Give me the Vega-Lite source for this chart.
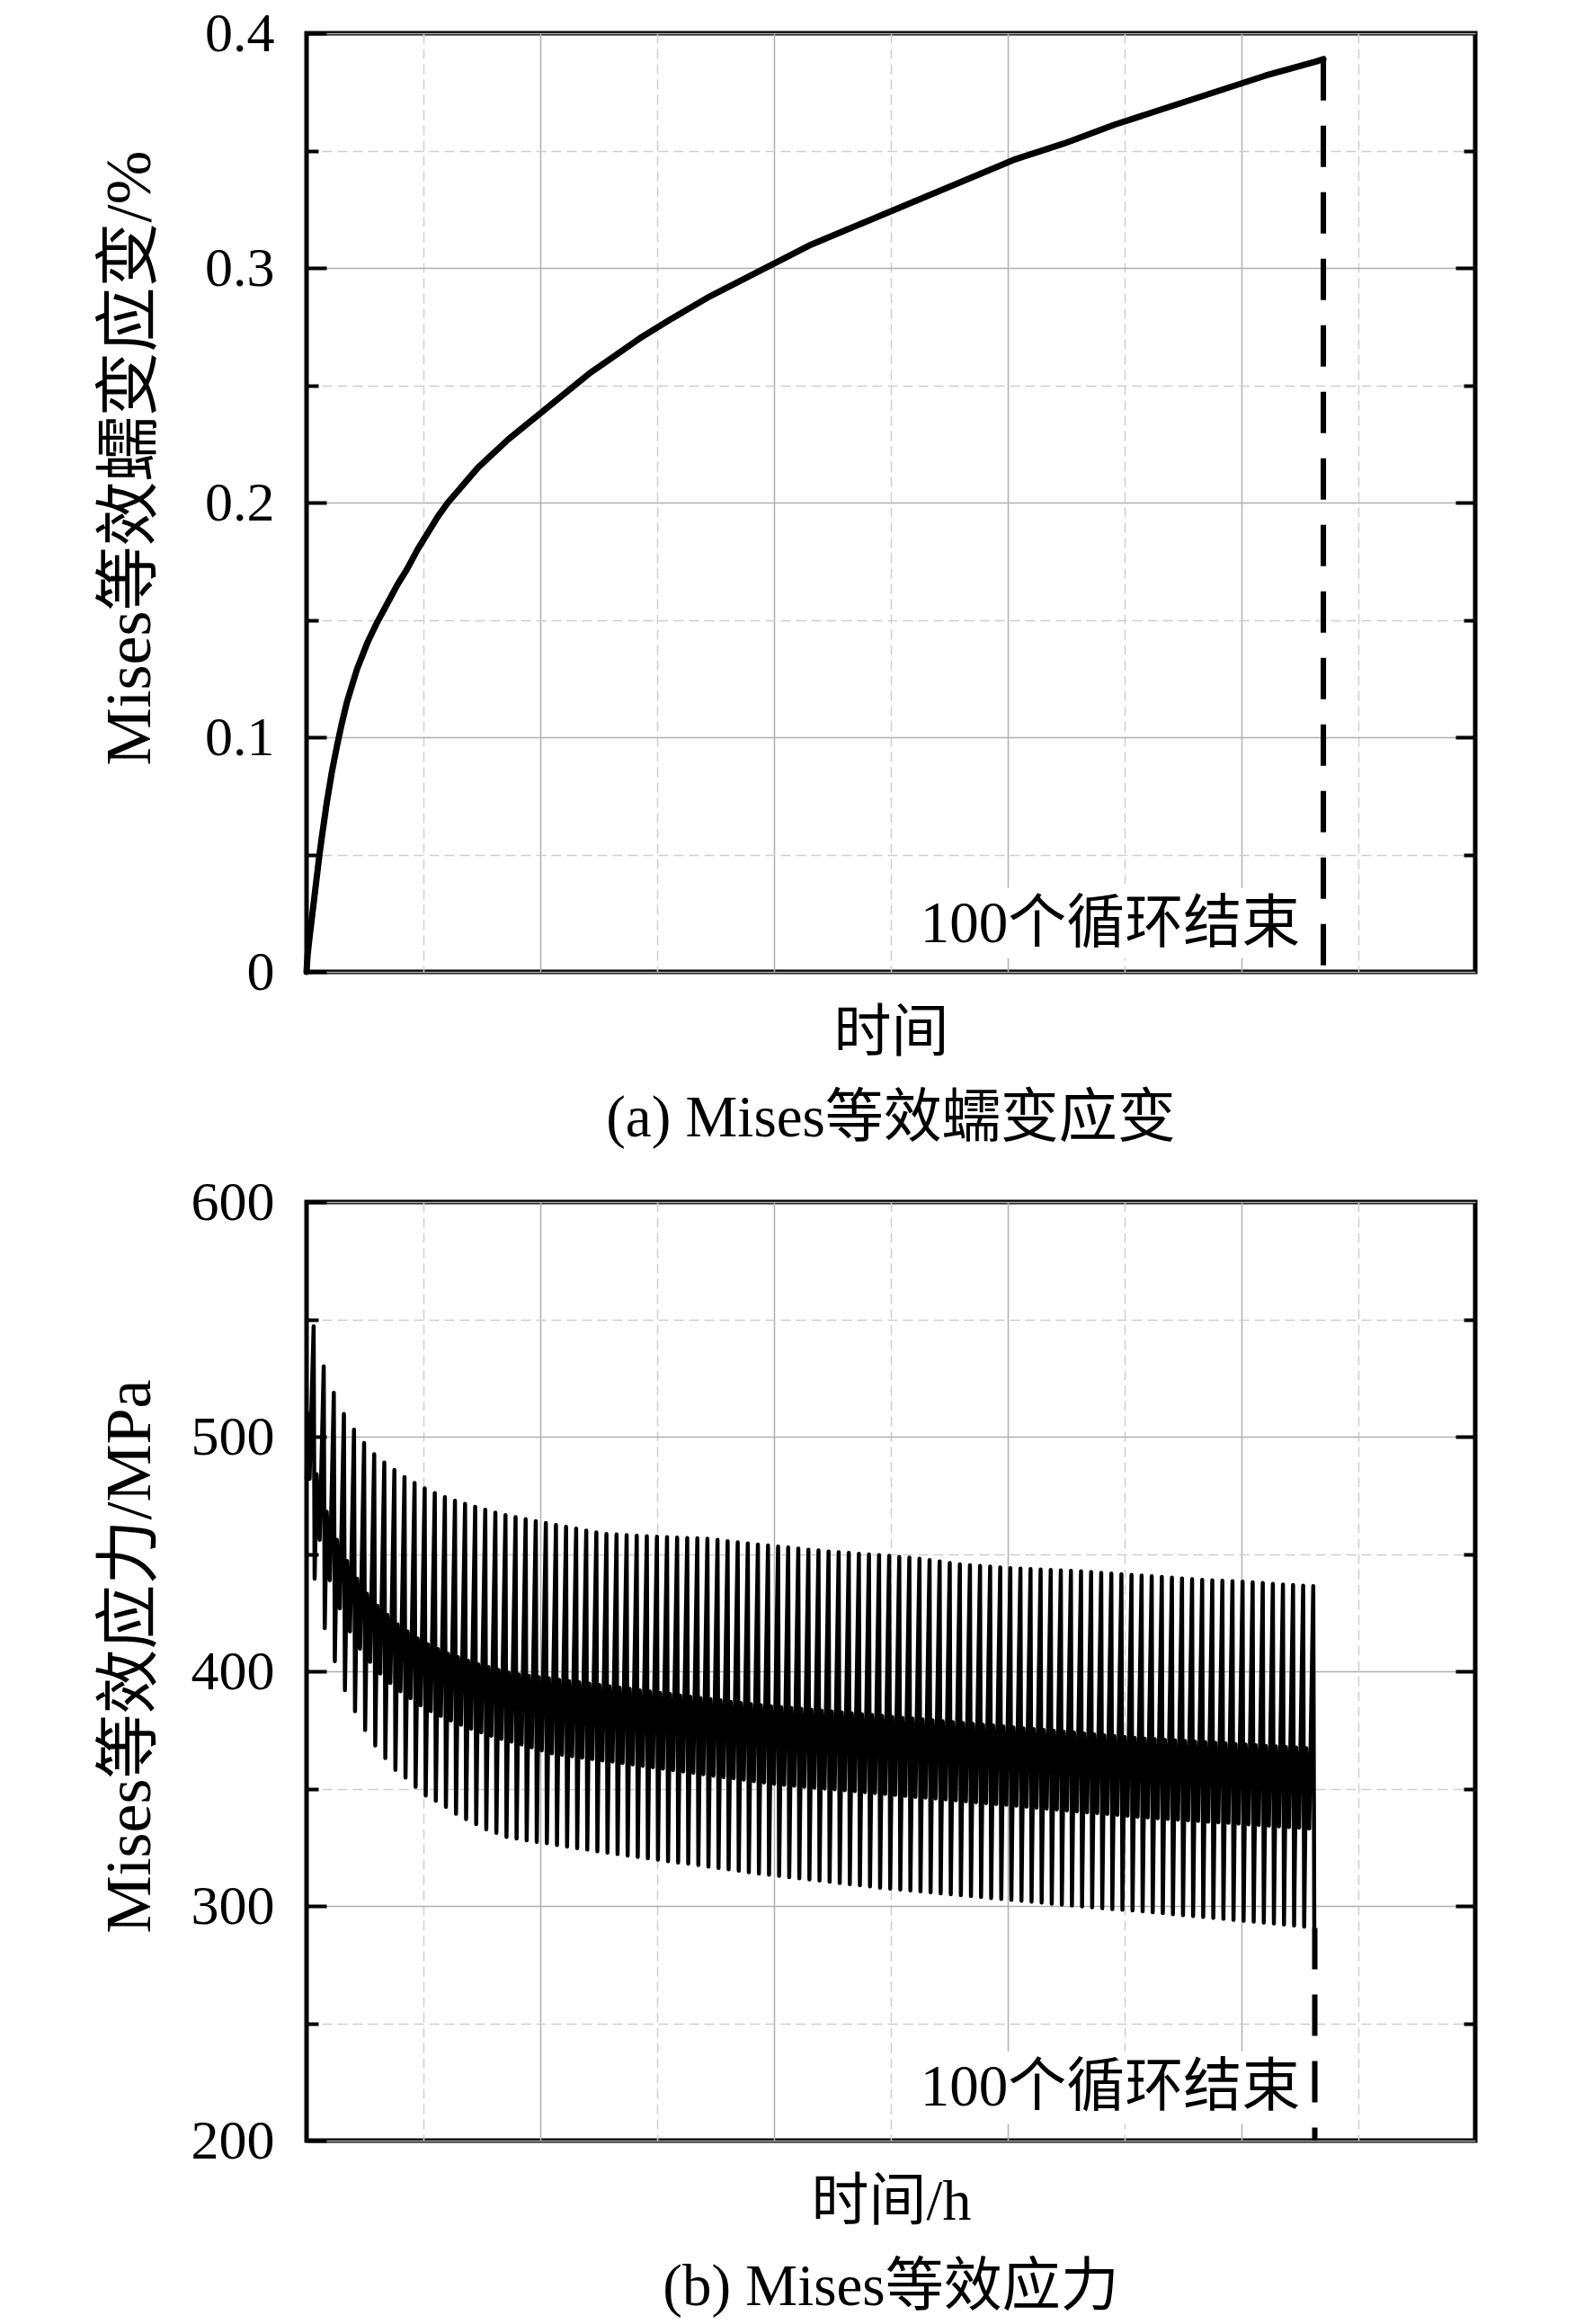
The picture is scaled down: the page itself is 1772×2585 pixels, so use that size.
{
  "$schema": "https://vega.github.io/schema/vega-lite/v6.json",
  "background": "white",
  "padding": {"left": 105, "top": 3, "right": 10, "bottom": 10},
  "bounds": "flush",
  "spacing": 256,
  "config": {
    "font": "Liberation Serif, Noto Sans CJK SC",
    "view": {"stroke": "black", "strokeWidth": 5},
    "axis": {
      "domain": false,
      "labelFont": "Liberation Serif, Noto Sans CJK SC",
      "labelFontSize": 62,
      "labelColor": "black",
      "labelOverlap": false,
      "titleFont": "Liberation Serif, Noto Sans CJK SC",
      "titleFontSize": 64,
      "titleFontWeight": "normal",
      "titleColor": "black",
      "tickColor": "black",
      "tickWidth": 4,
      "gridColor": "#b0b0b0",
      "gridWidth": 1.5
    },
    "title": {"font": "Liberation Serif, Noto Sans CJK SC", "fontSize": 65, "fontWeight": "normal", "color": "black"},
    "text": {"font": "Liberation Serif, Noto Sans CJK SC"}
  },
  "vconcat": [
    {
      "width": 1300,
      "height": 1044,
      "title": {"text": "(a) Mises等效蠕变应变", "orient": "bottom", "offset": 32},
      "resolve": {"axis": {"x": "independent", "y": "independent"}},
      "layer": [
        {
          "data": {"values": [
            {"c": 0, "e": 0}, {"c": 0.1, "e": 0.007}, {"c": 0.25, "e": 0.013}, {"c": 0.5, "e": 0.022},
            {"c": 0.75, "e": 0.031}, {"c": 1, "e": 0.04}, {"c": 1.25, "e": 0.049}, {"c": 1.5, "e": 0.057},
            {"c": 2, "e": 0.072}, {"c": 2.5, "e": 0.085}, {"c": 3, "e": 0.096}, {"c": 3.5, "e": 0.106},
            {"c": 4, "e": 0.115}, {"c": 5, "e": 0.129}, {"c": 6, "e": 0.14}, {"c": 7, "e": 0.149},
            {"c": 8, "e": 0.157}, {"c": 9, "e": 0.165}, {"c": 10, "e": 0.172}, {"c": 11, "e": 0.18},
            {"c": 12, "e": 0.187}, {"c": 13, "e": 0.194}, {"c": 14, "e": 0.2}, {"c": 15, "e": 0.205},
            {"c": 16, "e": 0.21}, {"c": 17, "e": 0.215}, {"c": 18, "e": 0.219}, {"c": 20, "e": 0.227},
            {"c": 22, "e": 0.234}, {"c": 24, "e": 0.241}, {"c": 26, "e": 0.248}, {"c": 28, "e": 0.255},
            {"c": 30, "e": 0.261}, {"c": 33, "e": 0.27}, {"c": 36, "e": 0.278}, {"c": 40, "e": 0.288},
            {"c": 45, "e": 0.299}, {"c": 50, "e": 0.31}, {"c": 55, "e": 0.319}, {"c": 60, "e": 0.328},
            {"c": 65, "e": 0.337}, {"c": 70, "e": 0.346}, {"c": 75, "e": 0.353}, {"c": 80, "e": 0.361},
            {"c": 85, "e": 0.368}, {"c": 90, "e": 0.375}, {"c": 95, "e": 0.382}, {"c": 100, "e": 0.388},
            {"c": 100.7, "e": 0.389}
          ]},
          "mark": {"type": "line", "color": "black", "strokeWidth": 7, "strokeJoin": "round", "strokeCap": "round"},
          "encoding": {
            "x": {"field": "c", "type": "quantitative", "scale": {"domain": [0, 115.74], "nice": false, "zero": false},
                  "axis": {"orient": "bottom", "values": [23.148, 46.296, 69.444, 92.593], "grid": true, "ticks": false, "labels": false, "title": "时间", "titlePadding": 36}},
            "y": {"field": "e", "type": "quantitative", "scale": {"domain": [0, 0.4], "nice": false},
                  "axis": {"orient": "left", "values": [0, 0.1, 0.2, 0.3, 0.4], "format": ".1~f", "grid": true, "tickSize": -22, "labelPadding": 58, "title": "Mises等效蠕变应变/%", "titleFontSize": 72, "titlePadding": 46, "titleY": 472}}
          }
        },
        {
          "data": {"values": [{"x1": 58.9, "x2": 101.5, "y1": 0.0058, "y2": 0.0357}]},
          "mark": {"type": "rect", "color": "white"},
          "encoding": {
            "x": {"field": "x1", "type": "quantitative",
                  "axis": {"orient": "bottom", "values": [11.574, 34.722, 57.87, 81.019, 104.167], "grid": true, "gridDash": [11, 6], "gridColor": "#cfcfcf", "ticks": false, "labels": false, "title": null}},
            "x2": {"field": "x2"},
            "y": {"field": "y1", "type": "quantitative",
                  "axis": {"orient": "left", "values": [0.05, 0.15, 0.25, 0.35], "grid": true, "gridDash": [11, 6], "gridColor": "#cfcfcf", "tickSize": -13, "labels": false, "title": null}},
            "y2": {"field": "y2"}
          }
        },
        {
          "data": {"values": [{"c": 100.7, "hi": 0.389, "lo": 0}]},
          "mark": {"type": "rule", "color": "black", "strokeWidth": 6, "strokeDash": [46, 28]},
          "encoding": {
            "x": {"field": "c", "type": "quantitative", "axis": null},
            "y": {"field": "hi", "type": "quantitative",
                  "axis": {"orient": "right", "values": [0.1, 0.2, 0.3], "grid": false, "tickSize": -22, "labels": false, "title": null}},
            "y2": {"field": "lo"}
          }
        },
        {
          "data": {"values": [{"c": 98.4, "e": 0.0203, "label": "100个循环结束"}]},
          "mark": {"type": "text", "align": "right", "baseline": "middle", "fontSize": 65, "color": "black"},
          "encoding": {
            "x": {"field": "c", "type": "quantitative", "axis": null},
            "y": {"field": "e", "type": "quantitative",
                  "axis": {"orient": "right", "values": [0.05, 0.15, 0.25, 0.35], "grid": false, "tickSize": -13, "labels": false, "title": null}},
            "text": {"field": "label"}
          }
        }
      ]
    },
    {
      "width": 1300,
      "height": 1044,
      "title": {"text": "(b) Mises等效应力", "orient": "bottom", "offset": 32},
      "resolve": {"axis": {"x": "independent", "y": "independent"}},
      "layer": [
        {
          "data": {"values": [
            {"c": 0, "s": 482}, {"c": 0.1, "s": 510}, {"c": 0.3, "s": 482},
            {"c": 0.7, "s": 547}, {"c": 0.8, "s": 439.5}, {"c": 1, "s": 484}, {"c": 1.3, "s": 456},
            {"c": 1.7, "s": 530}, {"c": 1.8, "s": 418.4}, {"c": 2, "s": 468}, {"c": 2.3, "s": 438.8},
            {"c": 2.7, "s": 518.7}, {"c": 2.8, "s": 404.3}, {"c": 3, "s": 456}, {"c": 3.3, "s": 426.8},
            {"c": 3.7, "s": 509.7}, {"c": 3.8, "s": 392}, {"c": 4, "s": 447}, {"c": 4.3, "s": 417},
            {"c": 4.7, "s": 503}, {"c": 4.8, "s": 383}, {"c": 5, "s": 439.5}, {"c": 5.3, "s": 409.6},
            {"c": 5.7, "s": 497.3}, {"c": 5.8, "s": 375}, {"c": 6, "s": 433}, {"c": 6.3, "s": 404},
            {"c": 6.7, "s": 492.5}, {"c": 6.8, "s": 368.4}, {"c": 7, "s": 428}, {"c": 7.3, "s": 399},
            {"c": 7.7, "s": 489}, {"c": 7.8, "s": 363}, {"c": 8, "s": 424}, {"c": 8.3, "s": 395},
            {"c": 8.7, "s": 485.8}, {"c": 8.8, "s": 358}, {"c": 9, "s": 420}, {"c": 9.3, "s": 391.5},
            {"c": 9.7, "s": 482.8}, {"c": 9.8, "s": 354.7}, {"c": 10, "s": 417}, {"c": 10.3, "s": 388.5},
            {"c": 10.7, "s": 480.3}, {"c": 10.8, "s": 350.8}, {"c": 11, "s": 414}, {"c": 11.3, "s": 385.5},
            {"c": 11.7, "s": 478}, {"c": 11.8, "s": 347}, {"c": 12, "s": 411.5}, {"c": 12.3, "s": 383},
            {"c": 12.7, "s": 476}, {"c": 12.8, "s": 344.8}, {"c": 13, "s": 409.5}, {"c": 13.3, "s": 381},
            {"c": 13.7, "s": 474.2}, {"c": 13.8, "s": 342.2}, {"c": 14, "s": 407.5}, {"c": 14.3, "s": 379},
            {"c": 14.7, "s": 472.7}, {"c": 14.8, "s": 339.3}, {"c": 15, "s": 406}, {"c": 15.3, "s": 377.2},
            {"c": 15.7, "s": 471.4}, {"c": 15.8, "s": 337}, {"c": 16, "s": 404.5}, {"c": 16.3, "s": 375.5},
            {"c": 16.7, "s": 470.1}, {"c": 16.8, "s": 334.9}, {"c": 17, "s": 403}, {"c": 17.3, "s": 374},
            {"c": 17.7, "s": 468.9}, {"c": 17.8, "s": 332.7}, {"c": 18, "s": 401.8}, {"c": 18.3, "s": 372.5},
            {"c": 18.7, "s": 467.6}, {"c": 18.8, "s": 331.1}, {"c": 19, "s": 400.6}, {"c": 19.3, "s": 371.2},
            {"c": 19.7, "s": 466.6}, {"c": 19.8, "s": 329.4}, {"c": 20, "s": 399.5}, {"c": 20.3, "s": 370},
            {"c": 20.7, "s": 465.7}, {"c": 20.8, "s": 328.7}, {"c": 21, "s": 398.7}, {"c": 21.3, "s": 368.8},
            {"c": 21.7, "s": 464.8}, {"c": 21.8, "s": 328}, {"c": 22, "s": 398.1}, {"c": 22.3, "s": 367.6},
            {"c": 22.7, "s": 464}, {"c": 22.8, "s": 327.3}, {"c": 23, "s": 397.5}, {"c": 23.3, "s": 366.3},
            {"c": 23.7, "s": 463.2}, {"c": 23.8, "s": 326.7}, {"c": 24, "s": 397}, {"c": 24.3, "s": 365},
            {"c": 24.7, "s": 462.4}, {"c": 24.8, "s": 326}, {"c": 25, "s": 396.4}, {"c": 25.3, "s": 364.4},
            {"c": 25.7, "s": 461.6}, {"c": 25.8, "s": 325.3}, {"c": 26, "s": 395.8}, {"c": 26.3, "s": 363.8},
            {"c": 26.7, "s": 460.8}, {"c": 26.8, "s": 324.6}, {"c": 27, "s": 395.3}, {"c": 27.3, "s": 363.2},
            {"c": 27.7, "s": 460}, {"c": 27.8, "s": 324}, {"c": 28, "s": 394.7}, {"c": 28.3, "s": 362.6},
            {"c": 28.7, "s": 459.2}, {"c": 28.8, "s": 323.3}, {"c": 29, "s": 394.2}, {"c": 29.3, "s": 362},
            {"c": 29.7, "s": 458.5}, {"c": 29.8, "s": 322.7}, {"c": 30, "s": 393.6}, {"c": 30.3, "s": 361.5},
            {"c": 30.7, "s": 458.3}, {"c": 30.8, "s": 322.1}, {"c": 31, "s": 393}, {"c": 31.3, "s": 360.9},
            {"c": 31.7, "s": 458}, {"c": 31.8, "s": 321.5}, {"c": 32, "s": 392.5}, {"c": 32.3, "s": 360.3},
            {"c": 32.7, "s": 457.8}, {"c": 32.8, "s": 320.9}, {"c": 33, "s": 391.9}, {"c": 33.3, "s": 359.7},
            {"c": 33.7, "s": 457.6}, {"c": 33.8, "s": 320.3}, {"c": 34, "s": 391.4}, {"c": 34.3, "s": 359.1},
            {"c": 34.7, "s": 457.4}, {"c": 34.8, "s": 319.7}, {"c": 35, "s": 390.8}, {"c": 35.3, "s": 358.5},
            {"c": 35.7, "s": 457.2}, {"c": 35.8, "s": 319.1}, {"c": 36, "s": 390.3}, {"c": 36.3, "s": 357.9},
            {"c": 36.7, "s": 457}, {"c": 36.8, "s": 318.5}, {"c": 37, "s": 389.7}, {"c": 37.3, "s": 357.3},
            {"c": 37.7, "s": 456.8}, {"c": 37.8, "s": 318}, {"c": 38, "s": 389.2}, {"c": 38.3, "s": 356.7},
            {"c": 38.7, "s": 456.7}, {"c": 38.8, "s": 317.4}, {"c": 39, "s": 388.6}, {"c": 39.3, "s": 356.1},
            {"c": 39.7, "s": 456.5}, {"c": 39.8, "s": 316.8}, {"c": 40, "s": 388.1}, {"c": 40.3, "s": 355.5},
            {"c": 40.7, "s": 456}, {"c": 40.8, "s": 316.2}, {"c": 41, "s": 387.6}, {"c": 41.3, "s": 354.9},
            {"c": 41.7, "s": 455.5}, {"c": 41.8, "s": 315.6}, {"c": 42, "s": 387}, {"c": 42.3, "s": 354.4},
            {"c": 42.7, "s": 455}, {"c": 42.8, "s": 315}, {"c": 43, "s": 386.5}, {"c": 43.3, "s": 353.8},
            {"c": 43.7, "s": 454.5}, {"c": 43.8, "s": 314.4}, {"c": 44, "s": 386}, {"c": 44.3, "s": 353.2},
            {"c": 44.7, "s": 454}, {"c": 44.8, "s": 313.8}, {"c": 45, "s": 385.5}, {"c": 45.3, "s": 352.6},
            {"c": 45.7, "s": 453.6}, {"c": 45.8, "s": 313.3}, {"c": 46, "s": 385.1}, {"c": 46.3, "s": 352},
            {"c": 46.7, "s": 453.2}, {"c": 46.8, "s": 312.8}, {"c": 47, "s": 384.7}, {"c": 47.3, "s": 351.6},
            {"c": 47.7, "s": 452.8}, {"c": 47.8, "s": 312.3}, {"c": 48, "s": 384.4}, {"c": 48.3, "s": 351.2},
            {"c": 48.7, "s": 452.3}, {"c": 48.8, "s": 311.8}, {"c": 49, "s": 384}, {"c": 49.3, "s": 350.8},
            {"c": 49.7, "s": 451.8}, {"c": 49.8, "s": 311.3}, {"c": 50, "s": 383.6}, {"c": 50.3, "s": 350.4},
            {"c": 50.7, "s": 451.5}, {"c": 50.8, "s": 310.8}, {"c": 51, "s": 383.2}, {"c": 51.3, "s": 350},
            {"c": 51.7, "s": 451.1}, {"c": 51.8, "s": 310.3}, {"c": 52, "s": 382.9}, {"c": 52.3, "s": 349.7},
            {"c": 52.7, "s": 450.8}, {"c": 52.8, "s": 309.8}, {"c": 53, "s": 382.5}, {"c": 53.3, "s": 349.3},
            {"c": 53.7, "s": 450.5}, {"c": 53.8, "s": 309.3}, {"c": 54, "s": 382.1}, {"c": 54.3, "s": 348.9},
            {"c": 54.7, "s": 450.1}, {"c": 54.8, "s": 308.8}, {"c": 55, "s": 381.7}, {"c": 55.3, "s": 348.5},
            {"c": 55.7, "s": 449.8}, {"c": 55.8, "s": 308.3}, {"c": 56, "s": 381.4}, {"c": 56.3, "s": 348.1},
            {"c": 56.7, "s": 449.5}, {"c": 56.8, "s": 307.8}, {"c": 57, "s": 381}, {"c": 57.3, "s": 347.7},
            {"c": 57.7, "s": 449.2}, {"c": 57.8, "s": 307.4}, {"c": 58, "s": 380.6}, {"c": 58.3, "s": 347.3},
            {"c": 58.7, "s": 448.8}, {"c": 58.8, "s": 307}, {"c": 59, "s": 380.2}, {"c": 59.3, "s": 346.9},
            {"c": 59.7, "s": 448.5}, {"c": 59.8, "s": 306.6}, {"c": 60, "s": 379.9}, {"c": 60.3, "s": 346.5},
            {"c": 60.7, "s": 448}, {"c": 60.8, "s": 306.2}, {"c": 61, "s": 379.5}, {"c": 61.3, "s": 346.2},
            {"c": 61.7, "s": 447.4}, {"c": 61.8, "s": 305.8}, {"c": 62, "s": 379.1}, {"c": 62.3, "s": 345.8},
            {"c": 62.7, "s": 446.8}, {"c": 62.8, "s": 305.4}, {"c": 63, "s": 378.7}, {"c": 63.3, "s": 345.4},
            {"c": 63.7, "s": 446.2}, {"c": 63.8, "s": 305}, {"c": 64, "s": 378.4}, {"c": 64.3, "s": 345},
            {"c": 64.7, "s": 445.6}, {"c": 64.8, "s": 304.6}, {"c": 65, "s": 378}, {"c": 65.3, "s": 344.6},
            {"c": 65.7, "s": 445.2}, {"c": 65.8, "s": 304.2}, {"c": 66, "s": 377.6}, {"c": 66.3, "s": 344.2},
            {"c": 66.7, "s": 444.9}, {"c": 66.8, "s": 303.8}, {"c": 67, "s": 377.2}, {"c": 67.3, "s": 343.8},
            {"c": 67.7, "s": 444.6}, {"c": 67.8, "s": 303.4}, {"c": 68, "s": 376.9}, {"c": 68.3, "s": 343.4},
            {"c": 68.7, "s": 444.3}, {"c": 68.8, "s": 303}, {"c": 69, "s": 376.5}, {"c": 69.3, "s": 343.1},
            {"c": 69.7, "s": 444}, {"c": 69.8, "s": 302.6}, {"c": 70, "s": 376.1}, {"c": 70.3, "s": 342.7},
            {"c": 70.7, "s": 443.8}, {"c": 70.8, "s": 302.2}, {"c": 71, "s": 375.7}, {"c": 71.3, "s": 342.3},
            {"c": 71.7, "s": 443.6}, {"c": 71.8, "s": 301.8}, {"c": 72, "s": 375.4}, {"c": 72.3, "s": 341.9},
            {"c": 72.7, "s": 443.4}, {"c": 72.8, "s": 301.4}, {"c": 73, "s": 375}, {"c": 73.3, "s": 341.5},
            {"c": 73.7, "s": 443.2}, {"c": 73.8, "s": 301}, {"c": 74, "s": 374.6}, {"c": 74.3, "s": 341.1},
            {"c": 74.7, "s": 443}, {"c": 74.8, "s": 300.6}, {"c": 75, "s": 374.2}, {"c": 75.3, "s": 340.7},
            {"c": 75.7, "s": 442.8}, {"c": 75.8, "s": 300.2}, {"c": 76, "s": 373.9}, {"c": 76.3, "s": 340.3},
            {"c": 76.7, "s": 442.6}, {"c": 76.8, "s": 299.8}, {"c": 77, "s": 373.5}, {"c": 77.3, "s": 339.9},
            {"c": 77.7, "s": 442.3}, {"c": 77.8, "s": 299.4}, {"c": 78, "s": 373.1}, {"c": 78.3, "s": 339.6},
            {"c": 78.7, "s": 442}, {"c": 78.8, "s": 299}, {"c": 79, "s": 372.7}, {"c": 79.3, "s": 339.2},
            {"c": 79.7, "s": 441.7}, {"c": 79.8, "s": 298.7}, {"c": 80, "s": 372.4}, {"c": 80.3, "s": 338.8},
            {"c": 80.7, "s": 441.4}, {"c": 80.8, "s": 298.4}, {"c": 81, "s": 372}, {"c": 81.3, "s": 338.4},
            {"c": 81.7, "s": 441.1}, {"c": 81.8, "s": 298.1}, {"c": 82, "s": 371.6}, {"c": 82.3, "s": 338},
            {"c": 82.7, "s": 440.8}, {"c": 82.8, "s": 297.7}, {"c": 83, "s": 371.3}, {"c": 83.3, "s": 337.7},
            {"c": 83.7, "s": 440.5}, {"c": 83.8, "s": 297.3}, {"c": 84, "s": 371.1}, {"c": 84.3, "s": 337.4},
            {"c": 84.7, "s": 440.2}, {"c": 84.8, "s": 296.9}, {"c": 85, "s": 370.8}, {"c": 85.3, "s": 337.1},
            {"c": 85.7, "s": 439.9}, {"c": 85.8, "s": 296.5}, {"c": 86, "s": 370.6}, {"c": 86.3, "s": 336.8},
            {"c": 86.7, "s": 439.6}, {"c": 86.8, "s": 296.1}, {"c": 87, "s": 370.3}, {"c": 87.3, "s": 336.5},
            {"c": 87.7, "s": 439.3}, {"c": 87.8, "s": 295.7}, {"c": 88, "s": 370}, {"c": 88.3, "s": 336.2},
            {"c": 88.7, "s": 439}, {"c": 88.8, "s": 295.3}, {"c": 89, "s": 369.8}, {"c": 89.3, "s": 335.9},
            {"c": 89.7, "s": 438.8}, {"c": 89.8, "s": 294.9}, {"c": 90, "s": 369.5}, {"c": 90.3, "s": 335.6},
            {"c": 90.7, "s": 438.6}, {"c": 90.8, "s": 294.5}, {"c": 91, "s": 369.3}, {"c": 91.3, "s": 335.4},
            {"c": 91.7, "s": 438.4}, {"c": 91.8, "s": 294.1}, {"c": 92, "s": 369}, {"c": 92.3, "s": 335.1},
            {"c": 92.7, "s": 438.2}, {"c": 92.8, "s": 293.7}, {"c": 93, "s": 368.8}, {"c": 93.3, "s": 334.8},
            {"c": 93.7, "s": 437.9}, {"c": 93.8, "s": 293.3}, {"c": 94, "s": 368.5}, {"c": 94.3, "s": 334.5},
            {"c": 94.7, "s": 437.6}, {"c": 94.8, "s": 292.9}, {"c": 95, "s": 368.2}, {"c": 95.3, "s": 334.2},
            {"c": 95.7, "s": 437.3}, {"c": 95.8, "s": 292.5}, {"c": 96, "s": 368}, {"c": 96.3, "s": 333.9},
            {"c": 96.7, "s": 437}, {"c": 96.8, "s": 292.1}, {"c": 97, "s": 367.7}, {"c": 97.3, "s": 333.6},
            {"c": 97.7, "s": 436.8}, {"c": 97.8, "s": 291.7}, {"c": 98, "s": 367.5}, {"c": 98.3, "s": 333.3},
            {"c": 98.7, "s": 436.5}, {"c": 98.8, "s": 291.2}, {"c": 99, "s": 367.2}, {"c": 99.3, "s": 333},
            {"c": 99.7, "s": 436.3}, {"c": 99.8, "s": 290.6}
          ]},
          "mark": {"type": "line", "color": "black", "strokeWidth": 4.5, "strokeJoin": "round", "strokeCap": "round"},
          "encoding": {
            "x": {"field": "c", "type": "quantitative", "scale": {"domain": [0, 115.74], "nice": false, "zero": false},
                  "axis": {"orient": "bottom", "values": [23.148, 46.296, 69.444, 92.593], "grid": true, "ticks": false, "labels": false, "title": "时间/h", "titlePadding": 36}},
            "y": {"field": "s", "type": "quantitative", "scale": {"domain": [200, 600], "nice": false, "zero": false},
                  "axis": {"orient": "left", "values": [200, 300, 400, 500, 600], "format": "d", "grid": true, "tickSize": -22, "labelPadding": 58, "title": "Mises等效应力/MPa", "titleFontSize": 72, "titlePadding": 31, "titleY": 505}}
          }
        },
        {
          "data": {"values": [{"x1": 58.9, "x2": 101.5, "y1": 207, "y2": 238}]},
          "mark": {"type": "rect", "color": "white"},
          "encoding": {
            "x": {"field": "x1", "type": "quantitative",
                  "axis": {"orient": "bottom", "values": [11.574, 34.722, 57.87, 81.019, 104.167], "grid": true, "gridDash": [11, 6], "gridColor": "#cfcfcf", "ticks": false, "labels": false, "title": null}},
            "x2": {"field": "x2"},
            "y": {"field": "y1", "type": "quantitative",
                  "axis": {"orient": "left", "values": [250, 350, 450, 550], "grid": true, "gridDash": [11, 6], "gridColor": "#cfcfcf", "tickSize": -13, "labels": false, "title": null}},
            "y2": {"field": "y2"}
          }
        },
        {
          "data": {"values": [{"c": 99.85, "hi": 290.6, "lo": 200}]},
          "mark": {"type": "rule", "color": "black", "strokeWidth": 6, "strokeDash": [46, 28]},
          "encoding": {
            "x": {"field": "c", "type": "quantitative", "axis": null},
            "y": {"field": "hi", "type": "quantitative",
                  "axis": {"orient": "right", "values": [300, 400, 500], "grid": false, "tickSize": -22, "labels": false, "title": null}},
            "y2": {"field": "lo"}
          }
        },
        {
          "data": {"values": [{"c": 98.4, "s": 222.6, "label": "100个循环结束"}]},
          "mark": {"type": "text", "align": "right", "baseline": "middle", "fontSize": 65, "color": "black"},
          "encoding": {
            "x": {"field": "c", "type": "quantitative", "axis": null},
            "y": {"field": "s", "type": "quantitative",
                  "axis": {"orient": "right", "values": [250, 350, 450, 550], "grid": false, "tickSize": -13, "labels": false, "title": null}},
            "text": {"field": "label"}
          }
        }
      ]
    }
  ]
}
